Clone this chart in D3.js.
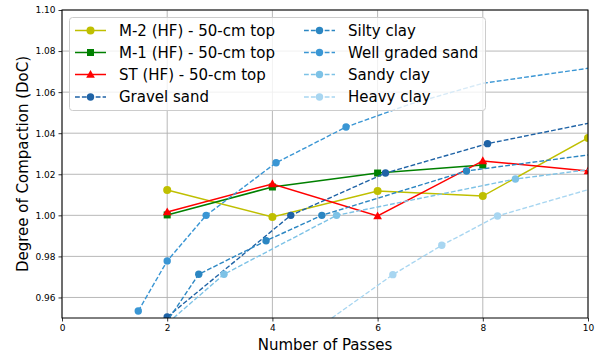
<!DOCTYPE html>
<html>
<head>
<meta charset="utf-8">
<script src="https://cdn.jsdelivr.net/npm/d3@7"></script>
<style>
  html, body { margin: 0; padding: 0; background: #fff; }
  svg { display: block; font-family: "DejaVu Sans", sans-serif; }
</style>
</head>
<body>
<svg id="chart" width="602" height="355"></svg>
<script>
// Field measurements (HF), 50-cm top layer: [passes, DoC]
const m2Top = [[2, 1.0123], [4, 0.9992], [6, 1.0118], [8, 1.0094], [10, 1.0377]];
const m1Top = [[2, 1.0002], [4, 1.0138], [6, 1.0206], [8, 1.0245]];
const stTop = [[2, 1.0016], [4, 1.0153], [6, 0.9997], [8, 1.0265], [10, 1.0216]];

// Reference soil curves: [passes, DoC, hasMarker]
const gravelSand = [[2, 0.9505, 1], [4.35, 1.0000, 1], [6.15, 1.0206, 1], [8.09, 1.0349, 1], [10, 1.0448, 0]];
const siltyClay = [[2.04, 0.9500, 0], [2.6, 0.9713, 1], [3.88, 0.9876, 1], [4.94, 1.0000, 1], [7.69, 1.0216, 1], [10, 1.0294, 0]];
const wellGradedSand = [[1.45, 0.9534, 1], [2, 0.9778, 1], [2.74, 1.0000, 1], [4.07, 1.0256, 1], [5.4, 1.0430, 1], [6.6, 1.0540, 0], [8, 1.0643, 0], [10, 1.0716, 0]];
const sandyClay = [[2.12, 0.9500, 0], [3.08, 0.9713, 1], [5.22, 1.0000, 1], [8.62, 1.0177, 1], [10, 1.0222, 0]];
const heavyClay = [[5.13, 0.9500, 0], [6.29, 0.9711, 1], [7.22, 0.9854, 1], [8.28, 0.9997, 1], [10, 1.0125, 0]];

const xTicks = [0, 2, 4, 6, 8, 10];
const yTicks = [0.96, 0.98, 1.00, 1.02, 1.04, 1.06, 1.08, 1.10];

const fieldSeries = [
  { name: "M-2 (HF) - 50-cm top", data: m2Top, color: "#bfbf00", marker: "circle" },
  { name: "M-1 (HF) - 50-cm top", data: m1Top, color: "#008000", marker: "square" },
  { name: "ST (HF) - 50-cm top", data: stTop, color: "#ff0000", marker: "triangle" }
];
const soilSeries = [
  { name: "Gravel sand", data: gravelSand, color: "#1f63a6" },
  { name: "Silty clay", data: siltyClay, color: "#2b86c2" },
  { name: "Well graded sand", data: wellGradedSand, color: "#3a96d4" },
  { name: "Sandy clay", data: sandyClay, color: "#7dc2e6" },
  { name: "Heavy clay", data: heavyClay, color: "#a8d6f1" }
];

const W = 602, H = 355;
const margin = { left: 62, right: 14, top: 10, bottom: 37 };
const iw = W - margin.left - margin.right;
const ih = H - margin.top - margin.bottom;

const svg = d3.select("#chart");
const g = svg.append("g").attr("transform", `translate(${margin.left},${margin.top})`);

const x = d3.scaleLinear().domain([0, 10]).range([0, iw]);
const y = d3.scaleLinear().domain([0.95, 1.10]).range([ih, 0]);

g.append("defs").append("clipPath").attr("id", "plotClip")
  .append("rect").attr("width", iw).attr("height", ih);

// grid
const grid = g.append("g");
grid.selectAll("line.gx").data(xTicks).join("line")
  .attr("x1", d => x(d)).attr("x2", d => x(d)).attr("y1", 0).attr("y2", ih)
  .attr("stroke", "#b0b0b0").attr("stroke-width", 0.9);
grid.selectAll("line.gy").data(yTicks).join("line")
  .attr("x1", 0).attr("x2", iw).attr("y1", d => y(d)).attr("y2", d => y(d))
  .attr("stroke", "#b0b0b0").attr("stroke-width", 0.9);

const plot = g.append("g").attr("clip-path", "url(#plotClip)");

function drawMarker(sel, type, color, size) {
  if (type === "square") {
    sel.append("rect").attr("x", -size / 2).attr("y", -size / 2)
      .attr("width", size).attr("height", size).attr("fill", color);
  } else if (type === "triangle") {
    const s = size * 0.62;
    sel.append("path").attr("d", `M0,${-s * 1.05}L${s},${s * 0.75}L${-s},${s * 0.75}Z`).attr("fill", color);
  } else {
    sel.append("circle").attr("r", size / 2).attr("fill", color);
  }
}

const line = d3.line().x(d => x(d[0])).y(d => y(d[1]));

fieldSeries.forEach(s => {
  plot.append("path").attr("d", line(s.data)).attr("fill", "none")
    .attr("stroke", s.color).attr("stroke-width", 1.5);
  s.data.forEach(d => {
    const m = plot.append("g").attr("transform", `translate(${x(d[0])},${y(d[1])})`);
    drawMarker(m, s.marker, s.color, s.marker === "circle" ? 8 : 7);
  });
});

soilSeries.forEach(s => {
  plot.append("path").attr("d", line(s.data)).attr("fill", "none")
    .attr("stroke", s.color).attr("stroke-width", 1.4)
    .attr("stroke-dasharray", "4.8,2.1");
  plot.selectAll(null).data(s.data.filter(d => d[2])).join("circle")
    .attr("cx", d => x(d[0])).attr("cy", d => y(d[1])).attr("r", 3.7)
    .attr("fill", s.color);
});

// axes
const xAxis = g.append("g").attr("transform", `translate(0,${ih})`)
  .call(d3.axisBottom(x).tickValues(xTicks).tickFormat(d3.format("d")).tickSize(3.5).tickPadding(3));
const yAxis = g.append("g")
  .call(d3.axisLeft(y).tickValues(yTicks).tickFormat(d3.format(".2f")).tickSize(3.5).tickPadding(3));
[xAxis, yAxis].forEach(a => {
  a.select(".domain").remove();
  a.selectAll("text").attr("font-size", 9).attr("font-family", "DejaVu Sans").attr("fill", "#000");
  a.selectAll("line").attr("stroke", "#000").attr("stroke-width", 0.8);
});

g.append("rect").attr("width", iw).attr("height", ih)
  .attr("fill", "none").attr("stroke", "#000").attr("stroke-width", 1);

svg.append("text").attr("x", margin.left + iw / 2).attr("y", 350)
  .attr("text-anchor", "middle").attr("font-size", 15).text("Number of Passes");
svg.append("text").attr("transform", `translate(28,${margin.top + ih / 2}) rotate(-90)`)
  .attr("text-anchor", "middle").attr("font-size", 15).text("Degree of Compaction (DoC)");

// legend
const legend = svg.append("g");
legend.append("rect").attr("x", 69.5).attr("y", 17.5).attr("width", 416).attr("height", 93)
  .attr("rx", 3).attr("fill", "#fff").attr("fill-opacity", 0.8)
  .attr("stroke", "#cccccc").attr("stroke-width", 1);

const rowY = [30.5, 52.5, 74.5, 97];
const legendItems = [
  ...fieldSeries.map(s => ({ ...s, dashed: false })),
  ...soilSeries.map(s => ({ ...s, marker: "circle", dashed: true }))
];
legendItems.forEach((s, i) => {
  const col = i < 4 ? 0 : 1;
  const row = i % 4;
  const x0 = col === 0 ? 75 : 304;
  const len = 31;
  const item = legend.append("g").attr("transform", `translate(${x0},${rowY[row]})`);
  item.append("line").attr("x1", 0).attr("x2", len).attr("y1", 0).attr("y2", 0)
    .attr("stroke", s.color).attr("stroke-width", s.dashed ? 1.4 : 1.5)
    .attr("stroke-dasharray", s.dashed ? "4.8,2.1" : null);
  const m = item.append("g").attr("transform", `translate(${len / 2},0)`);
  drawMarker(m, s.marker, s.color, s.dashed ? 7.4 : (s.marker === "circle" ? 8 : 7));
  item.append("text").attr("x", 44).attr("dy", "0.35em")
    .attr("font-size", 15).attr("fill", "#000").text(s.name);
});
</script>
</body>
</html>
